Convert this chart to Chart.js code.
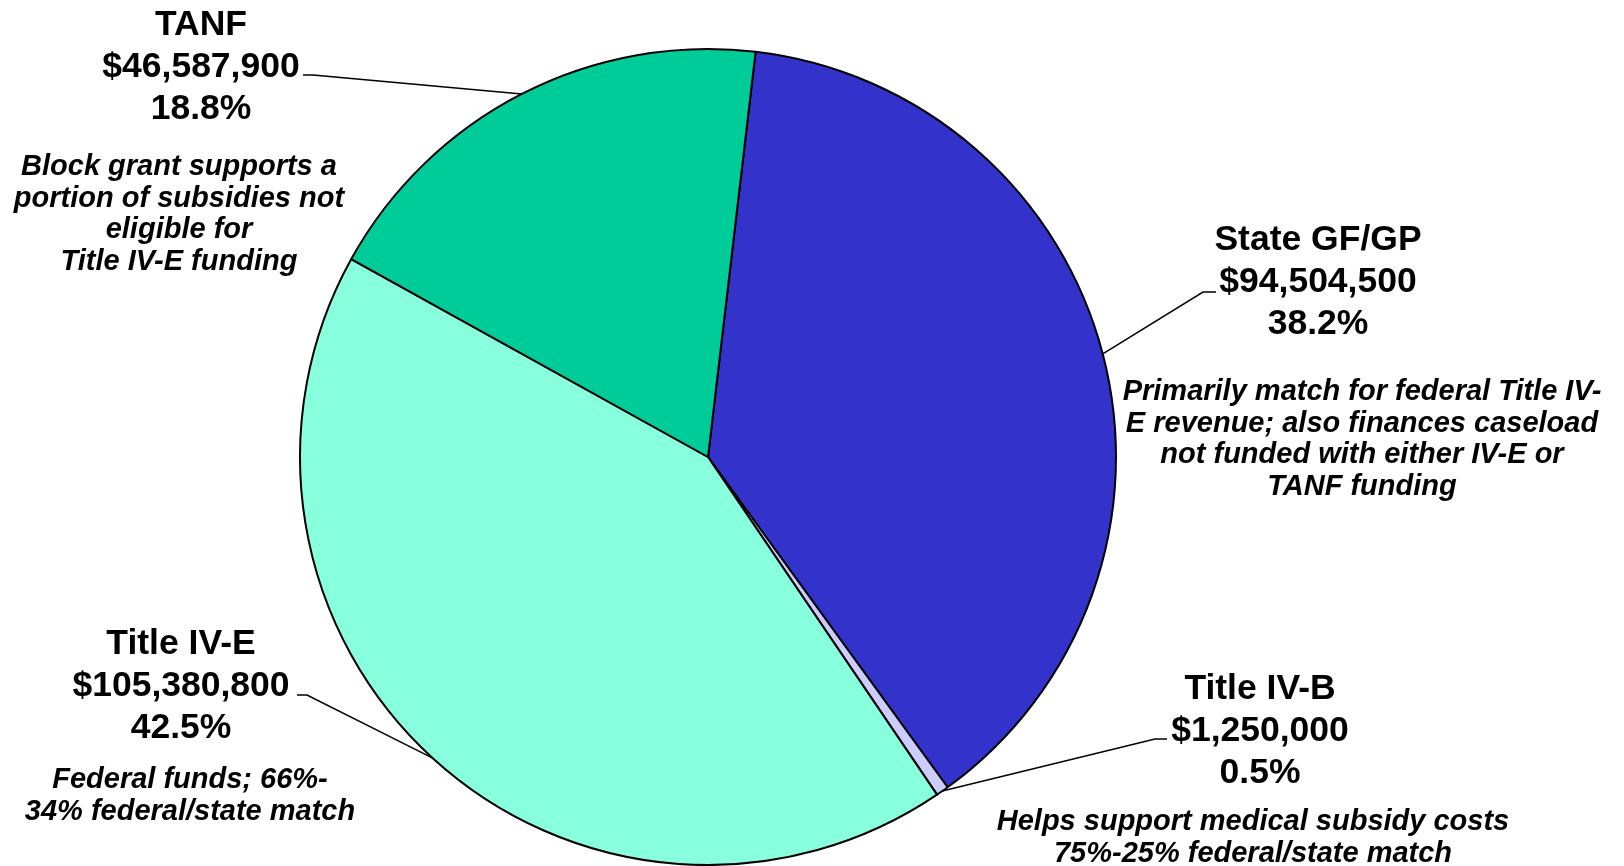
<!DOCTYPE html>
<html>
<head>
<meta charset="utf-8">
<script src="https://cdn.jsdelivr.net/npm/chart.js@4/dist/chart.umd.min.js"></script>
<style>
html,body{margin:0;padding:0;background:#fff;}
canvas{display:block;}
</style>
</head>
<body>
<canvas id="c" width="1624" height="866"></canvas>
<script>
// ---- data ----
const categories = ["State GF/GP", "Title IV-B", "Title IV-E", "TANF"];
const amounts = [94504500, 1250000, 105380800, 46587900];
const percentLabels = ["38.2%", "0.5%", "42.5%", "18.8%"];
const notes = [
  ["Primarily match for federal Title IV-", "E revenue; also finances caseload", "not funded with either IV-E or", "TANF funding"],
  ["Helps support medical subsidy costs", "75%-25% federal/state match"],
  ["Federal funds; 66%-", "34% federal/state match"],
  ["Block grant supports a", "portion of subsidies not", "eligible for", "Title IV-E funding"]
];
const sliceColors = ["#3333CC", "#CCCCFF", "#88FFDD", "#00CC99"];

// ---- label layout (positions of text blocks and leader anchors) ----
const labelLayout = [
  {bx: 1318, by: 240, nx: 1362, ny: 392, ax: 1216, kx: 1203, ay: 292},
  {bx: 1260, by: 689, nx: 1253, ny: 822, ax: 1167, kx: 1155, ay: 739},
  {bx: 181,  by: 644, nx: 190,  ny: 780, ax: 297,  kx: 307,  ay: 695},
  {bx: 201,  by: 25,  nx: 179,  ny: 167, ax: 303,  kx: 313,  ay: 75}
];
const FONT = '"Liberation Sans", Arial, Helvetica, sans-serif';

const labelPlugin = {
  id: 'pieLabels',
  afterDatasetsDraw(chart) {
    const ctx = chart.ctx;
    const meta = chart.getDatasetMeta(0);
    ctx.save();
    meta.data.forEach((arc, i) => {
      const L = labelLayout[i];
      const mid = (arc.startAngle + arc.endAngle) / 2;
      const px = arc.x + Math.cos(mid) * arc.outerRadius;
      const py = arc.y + Math.sin(mid) * arc.outerRadius;
      // leader line
      ctx.strokeStyle = '#000';
      ctx.lineWidth = 1.5;
      ctx.beginPath();
      ctx.moveTo(L.ax, L.ay);
      ctx.lineTo(L.kx, L.ay);
      ctx.lineTo(px, py);
      ctx.stroke();
      // bold block
      ctx.fillStyle = '#000';
      ctx.textAlign = 'center';
      ctx.textBaseline = 'middle';
      ctx.font = 'bold 35.5px ' + FONT;
      const lines = [categories[i], '$' + amounts[i].toLocaleString('en-US'), percentLabels[i]];
      lines.forEach((t, j) => ctx.fillText(t, L.bx, L.by + j * 42));
      // italic note
      ctx.font = 'italic bold 29px ' + FONT;
      notes[i].forEach((t, j) => ctx.fillText(t, L.nx, L.ny + j * 31.5));
    });
    ctx.restore();
  }
};

new Chart(document.getElementById('c'), {
  type: 'pie',
  data: {
    labels: categories,
    datasets: [{
      data: amounts,
      backgroundColor: sliceColors,
      borderColor: '#000',
      borderWidth: 2,
      borderAlign: 'center'
    }]
  },
  options: {
    responsive: false,
    devicePixelRatio: 1,
    animation: false,
    rotation: 6.7,
    layout: {padding: {left: 299, right: 507, top: 48, bottom: 0}},
    plugins: {legend: {display: false}, tooltip: {enabled: false}}
  },
  plugins: [labelPlugin]
});
</script>
</body>
</html>
